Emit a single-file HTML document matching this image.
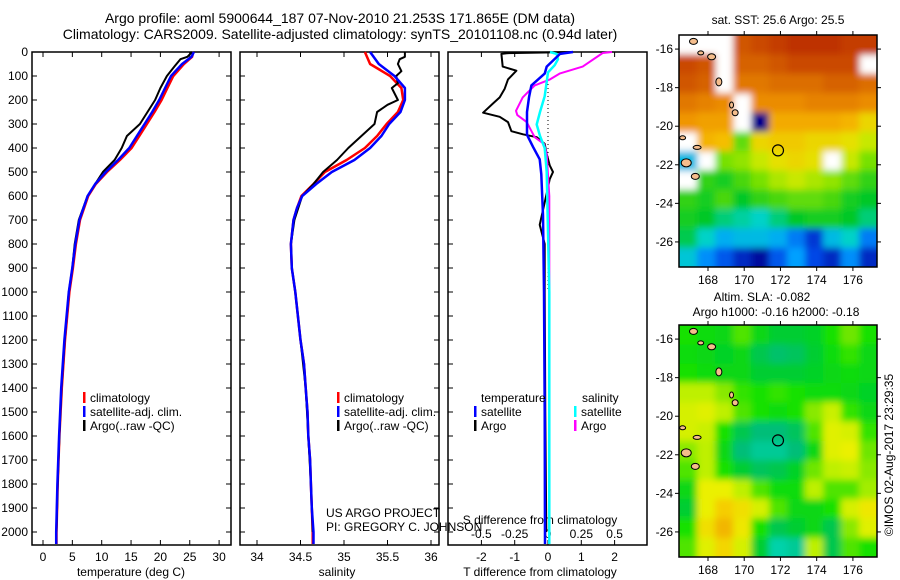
<!DOCTYPE html>
<html><head><meta charset="utf-8">
<style>
html,body{margin:0;padding:0;background:#fff;}
svg{display:block;font-family:"Liberation Sans",sans-serif;}
</style></head>
<body>
<svg id="fig" width="900" height="580" viewBox="0 0 900 580" xmlns="http://www.w3.org/2000/svg">
<defs>
<filter id="soft" x="-5%" y="-5%" width="110%" height="110%"><feGaussianBlur stdDeviation="3.5" edgeMode="duplicate"/></filter>
<clipPath id="clipTop"><rect x="679" y="35" width="198" height="232"/></clipPath>
<clipPath id="clipBot"><rect x="679" y="325" width="198" height="232"/></clipPath>
</defs>
<text x="340" y="23" font-size="14" text-anchor="middle">Argo profile: aoml 5900644_187 07-Nov-2010 21.253S 171.865E (DM data)</text>
<text x="340" y="39" font-size="14" text-anchor="middle">Climatology: CARS2009. Satellite-adjusted climatology: synTS_20101108.nc (0.94d later)</text>
<text x="778" y="24" font-size="12" text-anchor="middle">sat. SST: 25.6 Argo: 25.5</text>
<text x="762" y="301" font-size="12" text-anchor="middle">Altim. SLA: -0.082</text>
<text x="776" y="316" font-size="12" text-anchor="middle">Argo h1000: -0.16 h2000: -0.18</text>
<text transform="translate(893,455) rotate(-90)" font-size="12" text-anchor="middle">©IMOS 02-Aug-2017 23:29:35</text>
<g id="plots"></g>
</svg>
<script>
// ---- data ----
const depthTicks = [0,100,200,300,400,500,600,700,800,900,1000,1100,1200,1300,1400,1500,1600,1700,1800,1900,2000];
const tempTicks = [0,5,10,15,20,25,30];
const salTicks = [34,34.5,35,35.5,36];
const tdiffTicks = [-2,-1,0,1,2];
const sdiffTicks = [-0.5,-0.25,0,0.25,0.5];
const salTickLabels = ["34","34.5","35","35.5","36"];

const tClimDepth = [0,20,50,100,150,200,250,300,350,400,450,500,550,600,700,800,900,1000,1200,1400,1600,1800,2000,2050];
const tClim = [25.6,25.4,24.0,22.2,21.2,20.2,19.0,17.7,16.4,15.1,13.1,10.9,9.0,7.7,6.3,5.6,5.1,4.5,3.75,3.2,2.8,2.5,2.3,2.3];
const tSat  = [25.7,25.3,23.7,21.8,20.8,19.8,18.6,17.3,16.0,14.7,12.8,10.7,8.9,7.6,6.2,5.5,5.0,4.4,3.65,3.1,2.75,2.45,2.25,2.25];
const tArgoDepth = [0,20,30,60,100,150,200,250,300,350,400,450,500,550,600,700,800,900,1000,1200,1400,1600,1800,2000];
const tArgo = [25.4,24.6,23.4,22.4,21.1,20.0,19.1,17.8,16.5,14.3,13.4,12.2,10.2,8.9,7.6,6.1,5.4,5.0,4.4,3.7,3.15,2.8,2.5,2.3];

const sClimDepth = [0,50,100,150,200,250,300,350,400,450,500,550,600,650,700,800,900,1000,1100,1200,1300,1400,1500,1600,1700,1800,1900,2000,2050];
const sClim = [35.24,35.3,35.53,35.66,35.68,35.62,35.49,35.38,35.24,35.03,34.78,34.65,34.51,34.46,34.42,34.39,34.4,34.44,34.47,34.5,34.54,34.56,34.58,34.59,34.61,34.62,34.63,34.64,34.64];
const sSat  = [35.3,35.4,35.58,35.7,35.7,35.65,35.52,35.43,35.3,35.12,34.86,34.68,34.52,34.46,34.42,34.39,34.4,34.44,34.47,34.5,34.54,34.56,34.58,34.59,34.61,34.62,34.63,34.65,34.65];
const sArgoDepth = [0,20,30,50,80,100,130,150,200,220,250,300,350,400,450,500,550,600,700,800,900,1000,1200,1400,1600,1800,2000];
const sArgo = [35.7,35.7,35.64,35.62,35.66,35.6,35.62,35.55,35.62,35.5,35.38,35.35,35.2,35.05,34.92,34.76,34.65,34.52,34.43,34.39,34.4,34.44,34.5,34.56,34.59,34.62,34.64];

const dTArgoDepth = [0,5,8,61,78,114,153,189,214,253,270,292,330,343,355,383,425,472,500,530,565,720,800,1000,1500,2000];
const dTArgo = [0.75,-1.24,-1.4,-1.36,-0.95,-1.2,-1.3,-1.45,-1.65,-1.95,-1.45,-1.2,-1.1,-0.75,-0.34,-0.1,-0.04,0.05,0.15,0.05,0.0,-0.25,-0.1,-0.1,-0.08,-0.05];
const dTSatDepth = [0,8,61,90,139,189,250,345,395,447,510,680,1000,1500,2050];
const dTSat = [0.75,0.36,-0.04,-0.1,-0.5,-0.57,-0.63,-0.63,-0.45,-0.25,-0.2,-0.15,-0.12,-0.1,-0.09];
const dSSatDepth = [0,8,30,55,85,184,250,302,350,400,500,750,1000,1500,2050];
const dSSat = [0.015,0.065,0.075,0.05,0.0,-0.025,-0.06,-0.085,-0.06,-0.025,-0.01,0.0,0.01,0.01,0.01];
const dSArgoDepth = [0,4,61,89,114,139,167,189,245,263,292,313,355,383,425,600,1000,1500,2050];
const dSArgo = [0.48,0.41,0.26,0.09,0.015,-0.1,-0.15,-0.19,-0.24,-0.23,-0.16,-0.14,-0.1,-0.03,-0.01,0.01,0.01,0.01,0.01];

// map grids: 12 rows (north->south), 11 cols (lon 167..177); null = no data
const mapLons = [168,170,172,174,176];
const mapLats = [-16,-18,-20,-22,-24,-26];
const sstGrid = [
 [null,null,null,26.5,26.6,26.7,26.8,26.9,26.8,26.7,26.7],
 [26.6,26.5,null,26.4,26.4,26.5,26.6,26.6,26.6,26.6,null],
 [26.5,26.4,null,26.2,26.2,26.3,26.3,26.3,26.4,26.4,26.3],
 [26.2,26.1,26.0,null,26.0,26.0,26.0,26.1,26.1,26.1,26.0],
 [25.9,25.8,25.8,null,22.4,25.7,25.7,25.7,25.7,25.6,25.3],
 [null,25.6,25.5,24.6,25.3,25.4,25.4,25.3,25.3,25.2,25.0],
 [23.6,null,24.7,24.8,25.0,25.2,25.3,25.2,null,25.0,24.7],
 [null,24.4,24.3,24.5,24.7,24.9,25.0,24.9,24.8,24.6,24.4],
 [24.4,24.3,24.5,24.2,24.4,24.5,24.6,24.6,24.5,24.3,24.2],
 [24.3,24.2,24.0,23.9,23.8,24.0,24.2,24.3,24.3,24.2,24.0],
 [24.1,23.8,23.5,23.6,23.6,23.5,23.2,22.8,23.6,23.8,23.2],
 [23.7,23.3,23.0,22.7,22.5,23.0,23.4,22.9,22.7,23.3,22.7]
];
const slaGrid = [
 [-0.06,-0.07,-0.08,-0.04,-0.08,-0.1,-0.1,-0.09,-0.06,-0.03,-0.06],
 [-0.07,-0.08,-0.09,-0.08,-0.12,-0.14,-0.13,-0.1,-0.07,-0.05,-0.08],
 [-0.06,-0.07,-0.08,-0.08,-0.1,-0.1,-0.1,-0.09,-0.08,-0.07,-0.08],
 [0.0,0.0,-0.02,-0.05,-0.06,-0.05,-0.06,-0.07,-0.07,-0.08,-0.09],
 [0.02,0.03,0.0,-0.04,-0.06,-0.07,-0.06,-0.02,0.01,-0.05,-0.08],
 [0.02,0.01,-0.06,-0.12,-0.15,-0.15,-0.13,-0.04,0.03,0.02,-0.05],
 [-0.02,0.0,-0.08,-0.15,-0.18,-0.18,-0.15,-0.08,0.03,0.04,-0.03],
 [-0.04,0.0,-0.06,-0.1,-0.13,-0.12,-0.09,-0.03,0.0,0.01,-0.02],
 [-0.08,0.04,0.04,0.0,-0.04,-0.07,-0.07,0.0,-0.04,-0.04,-0.01],
 [-0.1,0.04,0.08,0.06,0.02,-0.04,-0.08,-0.08,-0.06,0.02,0.05],
 [-0.06,0.06,0.1,0.05,-0.06,-0.12,-0.1,-0.08,-0.12,-0.02,0.03],
 [-0.04,0.03,0.07,0.02,-0.1,-0.2,-0.18,0.0,-0.12,-0.04,-0.06]
];
const argoLon = 171.865, argoLat = -21.253;

// ---- helpers ----
const NS = "http://www.w3.org/2000/svg";
const root = document.getElementById('plots');
function el(tag, attrs, parent){ const e=document.createElementNS(NS,tag); for(const k in attrs) e.setAttribute(k,attrs[k]); (parent||root).appendChild(e); return e; }
function txt(x,y,s,anchor,size,parent){ const t=el('text',{x:x,y:y,'font-size':size||12,'text-anchor':anchor||'middle'},parent); t.textContent=s; return t; }
const Y0=52, PXD=0.24;
const yD = d => Y0 + d*PXD;
const PT=545;

function panel(x0,x1,name){
  const g=el('g',{});
  
  
  const r=el('rect',{x:x0,y:Y0,width:x1-x0,height:PT-Y0,fill:'none',stroke:'#000','stroke-width':1.5},g);
  
  
  return g;
}
function depthTicksOn(g,x0,x1,labels,rightTicks){
  depthTicks.forEach(d=>{
    const y=yD(d);
    el('line',{x1:x0,y1:y,x2:x0+5,y2:y,stroke:'#000'},g);
    if(rightTicks) el('line',{x1:x1-5,y1:y,x2:x1,y2:y,stroke:'#000'},g);
    if(labels){ const t=txt(28,y+4,String(d),'end',12,g);
      
       }
  });
}
function line(g,xs,ds,xf,color,w,name){
  const pts=xs.map((v,i)=>xf(v).toFixed(1)+','+yD(ds[i]).toFixed(1)).join(' ');
  const p=el('polyline',{points:pts,fill:'none',stroke:color,'stroke-width':w||2.5,'stroke-linejoin':'round'},g);
  
  
}
function legend(g,x,y,items){
  items.forEach((it,i)=>{
    el('rect',{x:x,y:y+i*14-10,width:2.5,height:11,fill:it[1]},g);
    const t=txt(x+7,y+i*14,it[0],'start',12,g);
    
    
  });
}

// ---- panel 1: temperature ----
const xT = v => 43 + v*5.87;
let g1=panel(32,231,'temperature-panel');
depthTicksOn(g1,32,231,true,true);
tempTicks.forEach(v=>{ const x=xT(v); el('line',{x1:x,y1:PT,x2:x,y2:PT-5,stroke:'#000'},g1); el('line',{x1:x,y1:Y0,x2:x,y2:Y0+5,stroke:'#000'},g1);
  const t=txt(x,561,String(v),'middle',12,g1);  });
let xt=txt(131,576,'temperature (deg C)','middle',12,g1);  
line(g1,tClim,tClimDepth,xT,'#f00',2.5,'temperature-climatology-line');
line(g1,tArgo,tArgoDepth,xT,'#000',2,'temperature-argo-line');
line(g1,tSat,tClimDepth,xT,'#00f',2.5,'temperature-satellite-line');
legend(g1,83,402,[['climatology','#f00'],['satellite-adj. clim.','#00f'],['Argo(..raw -QC)','#000']]);

// ---- panel 2: salinity ----
const xS = v => 257 + (v-34)*87;
let g2=panel(240,439,'salinity-panel');
depthTicksOn(g2,240,439,false,true);
salTicks.forEach((v,i)=>{ const x=xS(v); el('line',{x1:x,y1:PT,x2:x,y2:PT-5,stroke:'#000'},g2); el('line',{x1:x,y1:Y0,x2:x,y2:Y0+5,stroke:'#000'},g2);
  const t=txt(x,561,salTickLabels[i],'middle',12,g2);  });
let st=txt(337,576,'salinity','middle',12,g2);  
line(g2,sClim,sClimDepth,xS,'#f00',2.5,'salinity-climatology-line');
line(g2,sArgo,sArgoDepth,xS,'#000',2,'salinity-argo-line');
line(g2,sSat,sClimDepth,xS,'#00f',2.5,'salinity-satellite-line');
legend(g2,337,402,[['climatology','#f00'],['satellite-adj. clim.','#00f'],['Argo(..raw -QC)','#000']]);
let c1=txt(326,517,'US ARGO PROJECT','start',12,g2);  
let c2=txt(326,531,'PI: GREGORY C. JOHNSON','start',12,g2);  

// ---- panel 3: differences ----
const xDT = v => 548 + v*33.3;
const xDS = v => 548 + v*133.3;
let g3=panel(448,647,'difference-panel');
depthTicksOn(g3,448,647,false,false);
tdiffTicks.forEach(v=>{ const x=xDT(v); el('line',{x1:x,y1:PT,x2:x,y2:PT-5,stroke:'#000'},g3); el('line',{x1:x,y1:Y0,x2:x,y2:Y0+5,stroke:'#000'},g3);
  const t=txt(x,561,String(v),'middle',12,g3);  });
sdiffTicks.forEach(v=>{ const t=txt(xDS(v),538,String(v),'middle',12,g3);  });
el('line',{x1:548,y1:yD(100),x2:548,y2:yD(1000),stroke:'#000','stroke-dasharray':'1,3'},g3);
let dt=txt(540,576,'T difference from climatology','middle',12,g3);  
let ds=txt(540,524,'S difference from climatology','middle',12,g3);  
line(g3,dTArgo,dTArgoDepth,xDT,'#000',2,'t-diff-argo-line');
line(g3,dSArgo,dSArgoDepth,xDS,'#f0f',2,'s-diff-argo-line');
line(g3,dSSat,dSSatDepth,xDS,'#0ff',2.5,'s-diff-satellite-line');
line(g3,dTSat,dTSatDepth,xDT,'#00f',2.5,'t-diff-satellite-line');
let lt=txt(481,402,'temperature','start',12,g3);  
let ls=txt(582,402,'salinity','start',12,g3);  
legend(g3,474,416,[['satellite','#00f'],['Argo','#000']]);
legend(g3,574,416,[['satellite','#0ff'],['Argo','#f0f']]);

// ---- maps ----
const MX0=679, MX1=877, LON0=166.4, LON1=177.33, LAT0=-15.27, LAT1=-27.3;
function rgb(c){ return 'rgb('+c.join(',')+')'; }
function interp(stops,v){
  if(v<=stops[0][0]) return rgb(stops[0][1]);
  for(let i=1;i<stops.length;i++){ if(v<=stops[i][0]){ const a=stops[i-1],b=stops[i],t=(v-a[0])/(b[0]-a[0]);
    const c=a[1].map((q,k)=>Math.round(q+(b[1][k]-q)*t)); return rgb(c); } }
  return rgb(stops[stops.length-1][1]);
}
const sstStops=[[22.4,[0,0,140]],[22.9,[0,70,230]],[23.4,[0,160,255]],[23.8,[0,210,200]],[24.2,[0,200,40]],[24.7,[120,225,0]],[25.1,[225,235,0]],[25.5,[245,190,0]],[25.9,[240,150,0]],[26.3,[220,110,0]],[26.8,[190,50,0]]];
const slaStops=[[-0.2,[0,210,170]],[-0.15,[0,190,120]],[-0.1,[0,205,50]],[-0.06,[20,225,0]],[-0.03,[110,230,0]],[0.0,[190,240,0]],[0.04,[235,240,0]],[0.08,[245,205,0]],[0.11,[240,170,0]]];
function map(y0,y1,grid,stops,name,clip){
  const g=el('g',{});
  
  
  const lx=v=>MX0+(v-LON0)/(LON1-LON0)*(MX1-MX0);
  const ly=v=>y0+(v-LAT0)/(LAT1-LAT0)*(y1-y0);
  const rows=grid.length, cols=grid[0].length, cw=(MX1-MX0)/cols, rh=(y1-y0)/rows;
  const cg=el('g',{'clip-path':'url(#'+clip+')'},g);
  const bg=el('g',{filter:'url(#soft)'},cg);
  el('rect',{x:MX0-20,y:y0-20,width:MX1-MX0+40,height:y1-y0+40,fill:'#fff'},bg);
  grid.forEach((row,r)=>row.forEach((v,c)=>{
    if(v===null) return;
    const ex0 = c===0?20:0, ex1 = c===cols-1?20:0, ey0 = r===0?20:0, ey1 = r===rows-1?20:0;
    const cell=el('rect',{x:(MX0+c*cw-ex0).toFixed(1),y:(y0+r*rh-ey0).toFixed(1),width:(cw+0.6+ex0+ex1).toFixed(1),height:(rh+0.6+ey0+ey1).toFixed(1),fill:interp(stops,v)},bg);
    
    
  }));
  // islands
  [[167.2,-15.6,4,3],[168.2,-16.4,4,3],[168.6,-17.7,3,4],[167.6,-16.2,3,2],[169.5,-19.3,3,3],[169.3,-18.9,2,3],[166.6,-20.6,3,2],[167.4,-21.1,4,2],[166.8,-21.9,5,4],[167.3,-22.6,4,3]].forEach(s=>{
    const isl=el('ellipse',{cx:lx(s[0]),cy:ly(s[1]),rx:s[2],ry:s[3],fill:'#f5bd8c',stroke:'#000','stroke-width':1},cg);
    
    
  });
  el('rect',{x:MX0,y:y0,width:MX1-MX0,height:y1-y0,fill:'none',stroke:'#000','stroke-width':1.5},g);
  mapLons.forEach(v=>{ const x=lx(v); el('line',{x1:x,y1:y1,x2:x,y2:y1+4,stroke:'#000'},g); el('line',{x1:x,y1:y0,x2:x,y2:y0-4,stroke:'#000'},g);
    const t=txt(x,y1+17,String(v),'middle',12,g);  });
  mapLats.forEach(v=>{ const y=ly(v); el('line',{x1:MX0-4,y1:y,x2:MX0,y2:y,stroke:'#000'},g); el('line',{x1:MX1,y1:y,x2:MX1+4,y2:y,stroke:'#000'},g);
    const t=txt(MX0-6,y+4,String(v),'end',12,g);  });
  const m=el('circle',{cx:lx(argoLon),cy:ly(argoLat),r:5.5,fill:'none',stroke:'#000','stroke-width':1.2},g);
  
  
}
map(35,267,sstGrid,sstStops,'sst-map','clipTop');
map(325,557,slaGrid,slaStops,'sla-map','clipBot');
</script>
</body></html>
